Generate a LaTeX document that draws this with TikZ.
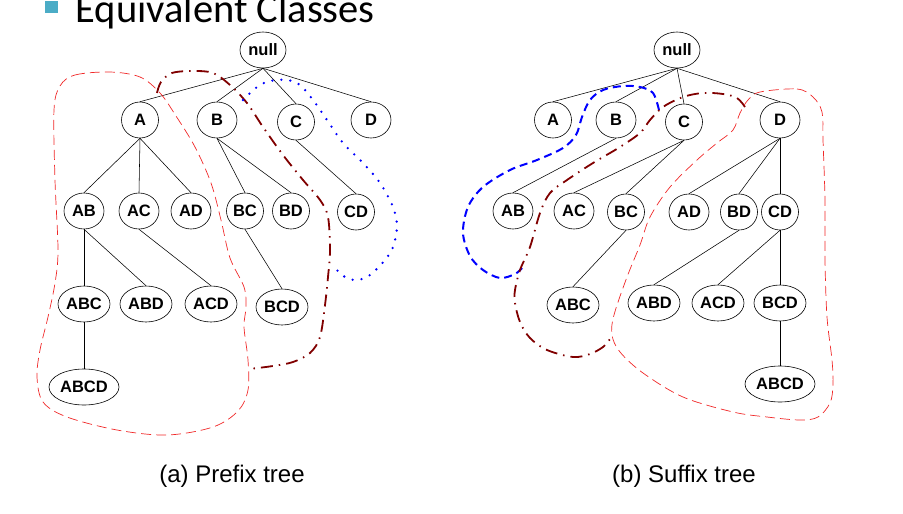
\documentclass[tikz,border=0pt]{standalone}
\usepackage{fontspec}
\setmainfont{Liberation Sans}
\newfontfamily\titlefont{Carlito}
\usetikzlibrary{shapes.geometric}
\definecolor{bullet}{HTML}{4BACC6}
\definecolor{darkred}{RGB}{128,0,0}
\definecolor{lred}{RGB}{240,40,40}
\tikzset{
  nd/.style={ellipse, draw=black, line width=0.6pt, inner sep=0pt, minimum height=36pt,
     font=\bfseries\fontsize{16.5}{16.5}\selectfont},
  w1/.style={nd, minimum width=37pt},
  w2/.style={nd, minimum width=40pt},
  w3/.style={nd, minimum width=52pt},
  w4/.style={nd, minimum width=70pt},
  wn/.style={nd, minimum width=46pt},
  edge/.style={draw=black, line width=0.55pt},
  reddash/.style={draw=lred, line width=0.7pt, dash pattern=on 10pt off 5pt},
  dashdot/.style={draw=darkred, line width=1.8pt, dash pattern=on 12pt off 6pt on 1.5pt off 6pt},
  bluedot/.style={draw=blue, line width=2.6pt, line cap=round, dash pattern=on 0pt off 9pt},
  bluedash/.style={draw=blue, line width=2pt, dash pattern=on 8pt off 5pt},
  caption/.style={font=\fontsize{24}{24}\selectfont, anchor=base, inner sep=0pt}
}
\begin{document}
\begin{tikzpicture}[x=1pt,y=-1pt]
\useasboundingbox (0,0) rectangle (903,514);
\clip (0,0) rectangle (903,514);
% title
\fill[bullet] (45,1) rectangle (58,13);
\node[anchor=base west, inner sep=0pt, font=\titlefont\fontsize{40.5}{40.5}\selectfont] (title) at (75.5,23) {Equivalent Classes};

% ---------- Prefix tree ----------
\node[wn] (pnull) at (263,50) {null};
\node[w1] (pA) at (140,120) {A};
\node[w2] (pB) at (217,120) {B};
\node[w1] (pC) at (296,122) {C};
\node[w2] (pD) at (371,120) {D};
\node[w2] (pAB) at (84,211) {AB};
\node[w2] (pAC) at (139,211) {AC};
\node[w2] (pAD) at (191,211) {AD};
\node[w1] (pBC) at (245,211) {BC};
\node[w1] (pBD) at (291,211) {BD};
\node[w1] (pCD) at (356,212) {CD};
\node[w3] (pABC) at (84,304) {ABC};
\node[w3] (pABD) at (146,304) {ABD};
\node[w3] (pACD) at (211,304) {ACD};
\node[w3] (pBCD) at (282,307) {BCD};
\node[w4] (pABCD) at (84,387) {ABCD};
\foreach \a/\b in {pnull/pA,pnull/pB,pnull/pC,pnull/pD,pA/pAB,pA/pAC,pA/pAD,pB/pBC,pB/pBD,pC/pCD,
  pAB/pABC,pAB/pABD,pAC/pACD,pBC/pBCD,pABC/pABCD}
  \draw[edge] (\a.south) -- (\b.north);

\draw[reddash] plot[smooth cycle, tension=0.55] coordinates {
 (60,86) (75,75) (110,72) (140,77) (160,93) (176,116) (195,147) (211,183) (221,220)
 (230,258) (244,287) (246,307) (244,327) (248,360) (248,390) (238,411) (213,427)
 (167,435) (117,430) (67,417) (43,402) (37,377) (40,350) (48,317) (55,283) (58,250)
 (55,180) (54,110)};
\draw[dashdot] plot[smooth, tension=0.55] coordinates {
 (157,93) (161,82) (172,73) (193,71) (213,73) (230,85) (247,103) (263,127) (283,155)
 (303,180) (320,200) (328,217) (330,250) (328,277) (325,305) (320,337) (310,353)
 (293,362) (273,366) (249,369)};
\draw[bluedot] plot[smooth, tension=0.55] coordinates {
 (243,100) (257,87) (270,81) (287,80) (300,85) (313,100) (327,120) (343,143) (363,163)
 (380,183) (393,207) (397,227) (393,247) (385,260) (370,275) (357,280) (345,277) (332,265)};

\node[caption] (capa) at (232,482) {(a) Prefix tree};

% ---------- Suffix tree ----------
\node[wn] (snull) at (677,50) {null};
\node[w1] (sA) at (553,120) {A};
\node[w2] (sB) at (616,120) {B};
\node[w1] (sC) at (684,122) {C};
\node[w2] (sD) at (780,120) {D};
\node[w2] (sAB) at (513,211) {AB};
\node[w2] (sAC) at (574,211) {AC};
\node[w1] (sBC) at (626,212) {BC};
\node[w2] (sAD) at (689,212) {AD};
\node[w1] (sBD) at (739,212) {BD};
\node[w1] (sCD) at (780,212) {CD};
\node[w3] (sABC) at (573,305) {ABC};
\node[w3] (sABD) at (654,303) {ABD};
\node[w3] (sACD) at (718,303) {ACD};
\node[w3] (sBCD) at (780,303) {BCD};
\node[w4] (sABCD) at (780,384) {ABCD};
\foreach \a/\b in {snull/sA,snull/sB,snull/sC,snull/sD,sB/sAB,sC/sAC,sC/sBC,sD/sAD,sD/sBD,sD/sCD,
  sBC/sABC,sBD/sABD,sCD/sACD,sCD/sBCD,sBCD/sABCD}
  \draw[edge] (\a.south) -- (\b.north);

\draw[bluedash] plot[smooth, tension=0.55] coordinates {
 (659,110) (653,93) (640,87) (623,86) (603,90) (590,100) (582,117) (576,135) (563,148)
 (537,160) (510,170) (483,187) (468,207) (463,233) (470,256) (483,270) (500,278)
 (515,274) (522,268)};
\draw[dashdot] plot[smooth, tension=0.55] coordinates {
 (745,107) (737,98) (723,94) (703,93) (683,97) (663,107) (650,120) (640,133) (620,147)
 (593,163) (567,180) (550,193) (540,213) (530,247) (520,270) (515,290) (515,303)
 (520,322) (530,338) (547,350) (573,357) (590,354) (603,347) (610,339)};
\draw[reddash] plot[smooth cycle, tension=0.55] coordinates {
 (760,92) (797,89) (813,97) (822,112) (823,140) (825,200) (825,260) (827,317) (832,360)
 (833,385) (830,403) (818,417) (800,420) (767,417) (733,412) (683,397) (643,373)
 (620,352) (612,335) (614,315) (627,277) (640,245) (650,217) (670,187) (697,160)
 (717,143) (733,130) (740,113) (748,100)};

\node[caption] (capb) at (684,482) {(b) Suffix tree};
\end{tikzpicture}
\end{document}
